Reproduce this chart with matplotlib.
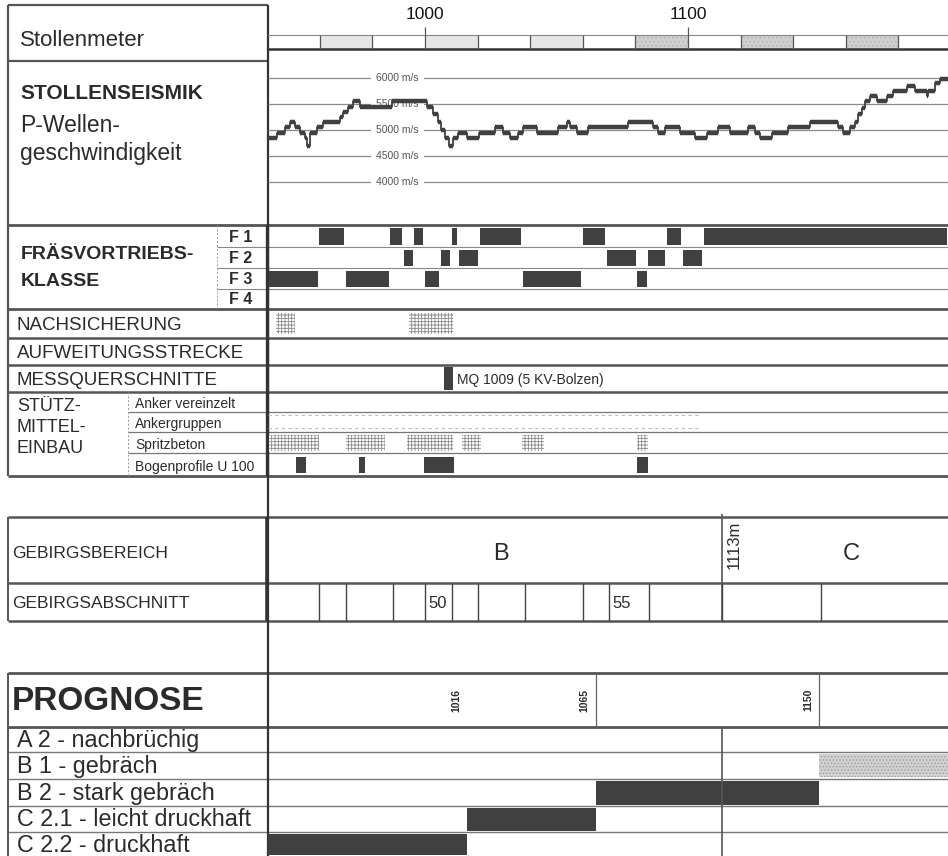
import numpy as np
import matplotlib.pyplot as plt
from matplotlib.patches import Rectangle

plt.rcParams['font.family'] = ['Liberation Sans', 'DejaVu Sans']
plt.rcParams['hatch.linewidth'] = 0.6

W, H = 948, 856
X0, X1 = 940.3, 1198.9          # Stollenmeter am linken / rechten Rand

DUNKEL = '#404040'
LINIE = '#555555'
TEXT = '#2b2b2b'

# --- Stollenmeter-Leiste ---
km_labels = [1000, 1100]
km_grenzen = [960, 980, 1000, 1020, 1040, 1060, 1080, 1100, 1120, 1140, 1160, 1180]
km_hell = [960, 1000, 1040]
km_dunkel = [1080, 1120, 1160]

# --- Stollenseismik (Stufenverlauf: Beginn Abschnitt, v_p in m/s) ---
seis_m = [940.3, 943.7, 946.8, 948.7, 950.6, 952.5, 954.4, 955.1, 956.3, 958.9,
          961.2, 967.7, 968.8, 970.7, 972.6, 975.3, 987.5, 1000.8, 1003.0, 1004.9,
          1006.1, 1007.6, 1009.0, 1010.5, 1012.5, 1016.0, 1020.5, 1026.6, 1029.7, 1032.3,
          1035.4, 1037.3, 1042.6, 1050.6, 1054.0, 1055.1, 1057.8, 1062.0, 1077.2, 1086.7,
          1088.6, 1091.3, 1097.0, 1102.7, 1107.2, 1111.4, 1116.0, 1122.8, 1125.5, 1127.4,
          1131.9, 1138.0, 1146.4, 1157.0, 1158.9, 1161.6, 1163.5, 1164.8, 1166.1, 1167.3,
          1169.2, 1171.8, 1175.6, 1178.1, 1183.2, 1186.3, 1190.8, 1191.4, 1193.9, 1195.8]
seis_v = [4850, 4950, 5050, 5150, 5050, 4950, 4850, 4700, 4950, 5050,
          5150, 5250, 5350, 5450, 5550, 5450, 5550, 5450, 5300, 5150,
          5000, 4850, 4700, 4850, 4950, 4850, 4950, 5050, 4950, 4850,
          4950, 5050, 4950, 5050, 5150, 5050, 4950, 5050, 5150, 5050,
          4950, 5050, 4950, 4850, 4950, 5050, 4950, 5050, 4950, 4850,
          4950, 5050, 5150, 5050, 4950, 5050, 5150, 5300, 5420, 5550,
          5650, 5550, 5650, 5750, 5850, 5750, 5650, 5750, 5900, 5980]
seis_grid = [6000, 5500, 5000, 4500, 4000]

# --- Fräsvortriebsklasse ---
f_grenzen = [940.3, 959.5, 969.6, 986.5, 991.6, 995.6, 999.6, 1005.7, 1009.9, 1012.5,
             1020.5, 1036.9, 1059.7, 1068.8, 1080.4, 1084.6, 1091.6, 1097.7, 1105.7, 1198.9]
f_klasse = [3, 1, 3, 1, 2, 1, 3, 2, 1, 2, 1, 3, 1, 2, 3, 2, 1, 2, 1]

nachsicherung = [(943.3, 950.6), (993.9, 1010.6)]
mq_station = 1009
spritzbeton = [(940.7, 959.7), (970.0, 984.8), (993.0, 1010.6), (1014.0, 1021.3),
               (1036.9, 1045.2), (1080.6, 1084.8)]
bogenprofile = [(950.8, 954.8), (974.8, 977.0), (999.6, 1011.2), (1080.6, 1084.8)]
ankergruppen = (940.3, 1105.0)

# --- Gebirge ---
bereich_grenze = 1113
abschnitt_start = [940.3, 959.7, 970.0, 987.8, 1000.0, 1010.3, 1020.2, 1038.0, 1060.0,
                   1069.9, 1085.2, 1113.0, 1150.6]
abschnitt_nr = [46, 47, 48, 49, 50, 51, 52, 53, 54, 55, 56, 57, 58]
abschnitt_beschriftet = [50, 55]

# --- Prognose ---
prog_klassen = ['A 2 - nachbrüchig', 'B 1 - gebräch', 'B 2 - stark gebräch',
                'C 2.1 - leicht druckhaft', 'C 2.2 - druckhaft']
prog_von = [None, 1150, 1065, 1016, 940.3]
prog_bis = [None, 1198.9, 1150, 1065, 1016]
prog_marken = [1016, 1065, 1150]

# Zeilenlayout in Pixel (oben, unten)
F_ROWS = [(225, 247), (247, 268), (268, 289), (289, 309)]
ROW_NACH = (309, 338)
ROW_AUFW = (338, 365)
ROW_MQ = (365, 392)
STUETZ = [(392, 412), (412, 432), (432, 453), (453, 476)]
ROW_BER = (517, 583)
ROW_ABS = (583, 621)
PROG_HEAD = (673, 727)
PROG_ROWS = [(727, 752), (752, 779), (779, 806), (806, 832), (832, 856)]

fig = plt.figure(figsize=(W / 100, H / 100), dpi=100)
fig.patch.set_facecolor('white')

# Hintergrundachse in Pixelkoordinaten für Beschriftungsspalte und Rahmen
bg = fig.add_axes([0, 0, 1, 1])
bg.set_xlim(0, W)
bg.set_ylim(H, 0)
bg.axis('off')

# Hauptachse rechts: x in Stollenmetern, y in Pixel
ax = fig.add_axes([268 / W, 0, (W - 268) / W, 1])
ax.set_xlim(X0, X1)
ax.set_ylim(H, 0)
ax.axis('off')
ax.patch.set_alpha(0)

# Seismik-Achse
axs = fig.add_axes([268 / W, 1 - 225 / H, (W - 268) / W, (225 - 61) / H])
axs.set_xlim(X0, X1)
axs.set_ylim(3173, 6327)
axs.axis('off')
axs.patch.set_alpha(0)


def hline(y, x0=8, x1=W, lw=1.0, color=LINIE, ls='-'):
    bg.plot([x0, x1], [y, y], color=color, lw=lw, ls=ls, solid_capstyle='butt')


def vline(x, y0, y1, lw=1.0, color=LINIE, ls='-'):
    bg.plot([x, x], [y0, y1], color=color, lw=lw, ls=ls, solid_capstyle='butt')


# Rahmen der Beschriftungsspalte
hline(5, 8, 268, lw=1.6)
hline(61, 8, 268, lw=1.6)
for y in [225, 309, 476]:
    hline(y, lw=2.0)
for y in [338, 365, 392]:
    hline(y, lw=1.8)
for top, _ in F_ROWS[1:]:
    hline(top, 217, W, lw=0.8, color='#888888')
for top, _ in STUETZ[1:]:
    hline(top, 128, W, lw=0.9, color='#777777')
vline(217, 225, 309, lw=0.7, color='#999999', ls=(0, (2, 2)))
vline(128, 392, 476, lw=0.7, color='#999999', ls=(0, (2, 2)))
vline(8, 5, 476, lw=1.6)

for y in [ROW_BER[0], ROW_ABS[0], ROW_ABS[1]]:
    hline(y, lw=1.8)
vline(8, ROW_BER[0], ROW_ABS[1], lw=1.4)

hline(PROG_HEAD[0], lw=2.0)
hline(PROG_HEAD[1], lw=2.0)
for top, _ in PROG_ROWS[1:]:
    hline(top, lw=1.0, color='#777777')
vline(8, PROG_HEAD[0], H, lw=1.4)

vline(268, 5, H, lw=1.6, color='#333333')
vline(267, 225, 476, lw=2.4, color='#333333')
vline(267, ROW_BER[0], ROW_ABS[1], lw=2.6, color='#333333')

# Texte der Beschriftungsspalte
bg.text(20, 40, 'Stollenmeter', fontsize=16, color=TEXT, va='center')
bg.text(20, 93, 'STOLLENSEISMIK', fontsize=15, fontweight='bold', color=TEXT, va='center')
bg.text(20, 125, 'P-Wellen-', fontsize=16.5, color=TEXT, va='center')
bg.text(20, 153, 'geschwindigkeit', fontsize=16.5, color=TEXT, va='center')
bg.text(21, 254, 'FRÄSVORTRIEBS-', fontsize=14, fontweight='bold', color=TEXT, va='center')
bg.text(21, 282, 'KLASSE', fontsize=14, fontweight='bold', color=TEXT, va='center')
for i, (top, bot) in enumerate(F_ROWS):
    bg.text(229, (top + bot) / 2 + 1, f'F {i + 1}', fontsize=11.5, fontweight='bold',
            color=TEXT, va='center')
for txt, (top, bot) in zip(['NACHSICHERUNG', 'AUFWEITUNGSSTRECKE', 'MESSQUERSCHNITTE'],
                           [ROW_NACH, ROW_AUFW, ROW_MQ]):
    bg.text(17, (top + bot) / 2 + 2, txt, fontsize=13.5, color=TEXT, va='center')
for txt, y in zip(['STÜTZ-', 'MITTEL-', 'EINBAU'], [406, 427, 448]):
    bg.text(17, y, txt, fontsize=13, color=TEXT, va='center')
for txt, (top, bot) in zip(['Anker vereinzelt', 'Ankergruppen', 'Spritzbeton',
                            'Bogenprofile U 100'], STUETZ):
    bg.text(135, (top + bot) / 2 + 2, txt, fontsize=10, color=TEXT, va='center')
bg.text(12, 554, 'GEBIRGSBEREICH', fontsize=12.5, color=TEXT, va='center')
bg.text(12, 603, 'GEBIRGSABSCHNITT', fontsize=12.5, color=TEXT, va='center')
bg.text(12, 701, 'PROGNOSE', fontsize=24, fontweight='bold', color=TEXT, va='center')
for txt, (top, bot) in zip(prog_klassen, PROG_ROWS):
    bg.text(17, (top + bot) / 2 + 1, txt, fontsize=16.8, color=TEXT, va='center')

# Stollenmeter-Leiste
ax.plot([X0, X1], [35, 35], color='#888888', lw=0.8)
ax.plot([X0, X1], [49, 49], color='#333333', lw=1.8)
for s in km_hell:
    ax.add_patch(Rectangle((s, 35), 20, 14, facecolor='#e6e6e6', edgecolor='none',
                           hatch='....', lw=0))
for s in km_dunkel:
    ax.add_patch(Rectangle((s, 35), 20, 14, facecolor='#cfcfcf', edgecolor='#b0b0b0',
                           hatch='....', lw=0))
ax.vlines(km_grenzen, 35, 49, color='#555555', lw=0.9)
ax.vlines(km_labels, 27, 35, color='#555555', lw=0.9)
for k in km_labels:
    ax.text(k, 14, str(k), fontsize=12.5, ha='center', va='center', color='#111111')

# Seismik: dünne Stufenverbindungen, kräftige waagerechte Abschnitte
axs.hlines(seis_grid, X0, X1, color='#8a8a8a', lw=0.9, zorder=1)
for v in seis_grid:
    axs.text(989.5, v, f'{v} m/s', fontsize=7.5, ha='center', va='center', color='#555555',
             zorder=2, bbox=dict(facecolor='white', edgecolor='none', pad=4))
seis_ende = seis_m[1:] + [X1]
axs.step(seis_m + [X1], seis_v + [seis_v[-1]], where='post', color=DUNKEL, lw=1.3, zorder=3)
axs.hlines(seis_v, seis_m, seis_ende, color=DUNKEL, lw=3.2, zorder=3)

# Fräsvortriebsklassen
for k, (top, bot) in enumerate(F_ROWS, start=1):
    segs = [(f_grenzen[i] + 0.25, f_grenzen[i + 1] - f_grenzen[i] - 0.5)
            for i, c in enumerate(f_klasse) if c == k]
    if segs:
        ax.broken_barh(segs, (top + 3, bot - top - 5), facecolor=DUNKEL, edgecolor='none')

# Nachsicherung, Messquerschnitt, Stützmittel
ax.broken_barh([(a, b - a) for a, b in nachsicherung], (ROW_NACH[0] + 4, 21),
               facecolor='white', edgecolor='#8a8a8a', hatch='+++++', lw=0)
ax.broken_barh([(mq_station - 1.6, 3.2)], (ROW_MQ[0] + 2, 23), facecolor=DUNKEL)
ax.text(mq_station + 3.0, (ROW_MQ[0] + ROW_MQ[1]) / 2 + 1, f'MQ {mq_station} (5 KV-Bolzen)',
        fontsize=10, va='center', color=TEXT)
for y in [STUETZ[1][0] + 3, STUETZ[1][1] - 4]:
    ax.plot(ankergruppen, [y, y], color='#bdbdbd', lw=0.8, ls=(0, (3, 3)))
ax.broken_barh([(a, b - a) for a, b in spritzbeton], (STUETZ[2][0] + 3, 16),
               facecolor='white', edgecolor='#8a8a8a', hatch='+++++', lw=0)
ax.broken_barh([(a, b - a) for a, b in bogenprofile], (STUETZ[3][0] + 4, 16),
               facecolor=DUNKEL)

# Gebirgsbereich / Gebirgsabschnitt
ax.vlines(bereich_grenze, ROW_BER[0] - 3, ROW_ABS[1], color='#555555', lw=1.2)
ax.text(bereich_grenze + 4.5, 545, f'{bereich_grenze}m', rotation=90, fontsize=12,
        ha='center', va='center', color=TEXT)
ax.text(1029, 554, 'B', fontsize=17, ha='center', va='center', color=TEXT)
ax.text(1162, 554, 'C', fontsize=17, ha='center', va='center', color=TEXT)
ax.vlines(abschnitt_start[1:], ROW_ABS[0], ROW_ABS[1], color='#444444', lw=1.0)
for s, n in zip(abschnitt_start, abschnitt_nr):
    if n in abschnitt_beschriftet:
        ax.text(s + 1.2, (ROW_ABS[0] + ROW_ABS[1]) / 2 + 1, str(n), fontsize=12,
                va='center', color=TEXT)

# Prognose
ax.vlines(prog_marken[1:], PROG_HEAD[0], PROG_HEAD[1], color='#666666', lw=0.9)
for m in prog_marken:
    ax.text(m - 4.2, 700, str(m), rotation=90, fontsize=7.5, fontweight='bold',
            ha='center', va='center', color=TEXT)
ax.vlines(bereich_grenze, PROG_HEAD[1], H, color='#555555', lw=1.2)
for (top, bot), a, b in zip(PROG_ROWS, prog_von, prog_bis):
    if a is None:
        continue
    if b == X1:
        ax.broken_barh([(a, b - a)], (top + 2, bot - top - 4), facecolor='#d2d2d2',
                       edgecolor='#9a9a9a', hatch='.....', lw=0)
    else:
        ax.broken_barh([(a, b - a)], (top + 2, bot - top - 3), facecolor=DUNKEL)

fig.savefig('out.png', dpi=100, facecolor='white')
